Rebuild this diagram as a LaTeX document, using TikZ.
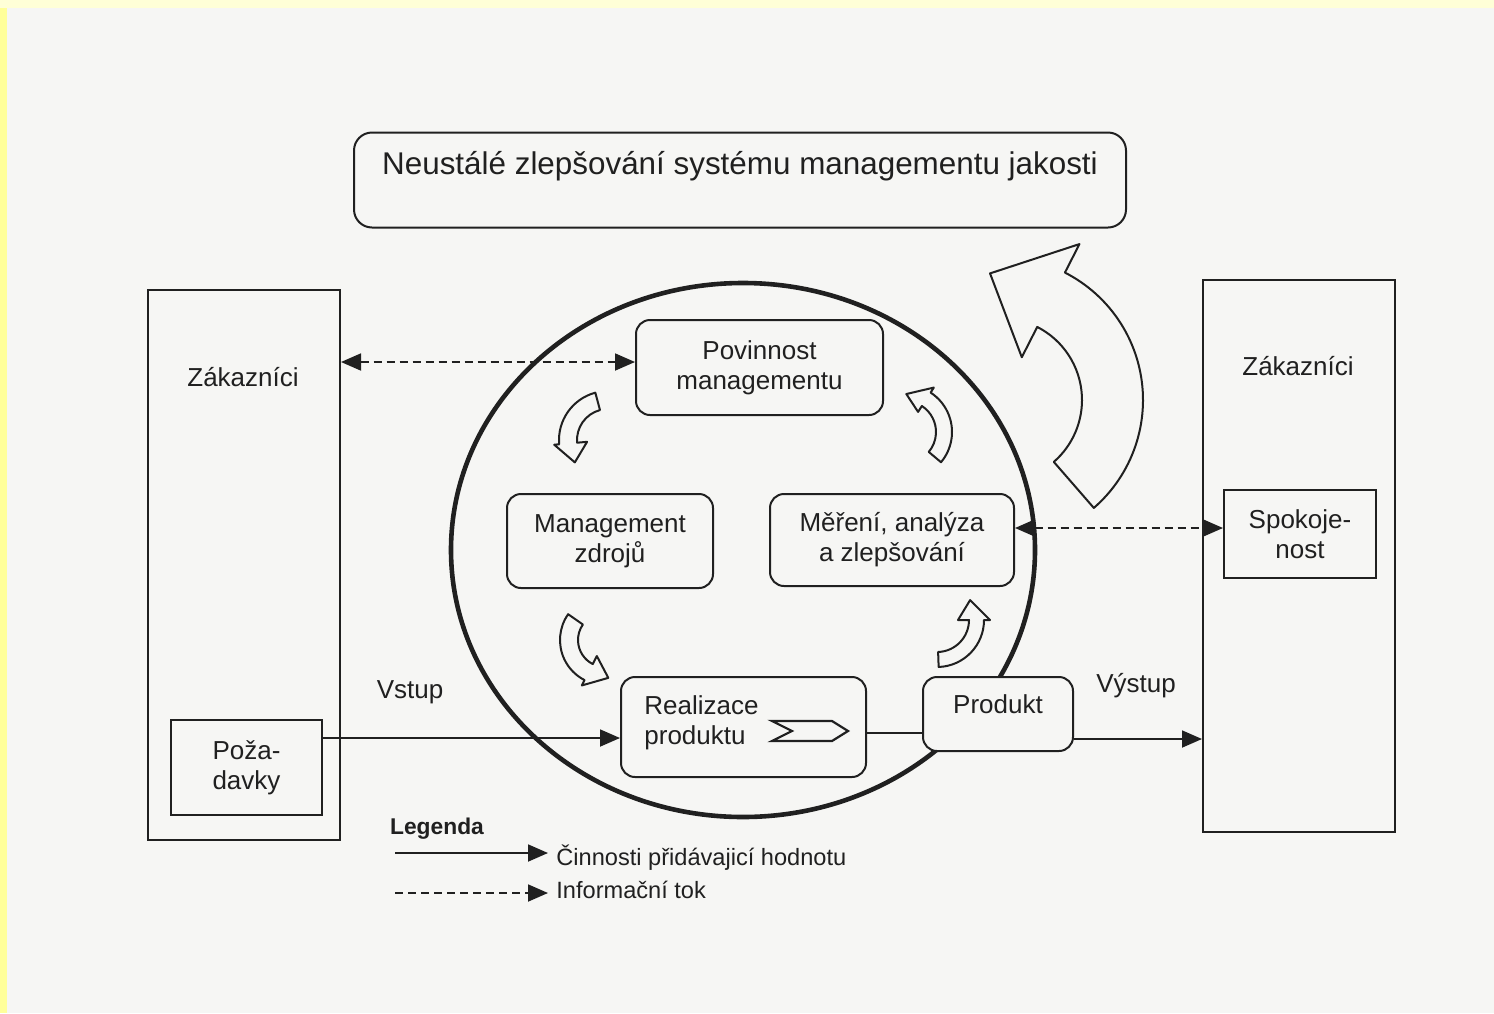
\documentclass[tikz,border=0pt]{standalone}
\usepackage{fontspec}
\setmainfont{Liberation Sans}
\usetikzlibrary{arrows.meta}
\definecolor{paper}{HTML}{F6F6F4}
\definecolor{ink}{HTML}{202020}
\definecolor{edge}{HTML}{FFFF9A}

\tikzset{
  box/.style={draw=ink, line width=1pt, rectangle, fill=paper, inner sep=0pt,
    align=center, text=ink, font=\fontsize{13}{15}\selectfont},
  rbox/.style={box, rounded corners=7pt},
  lbl/.style={inner sep=0pt, text=ink, font=\fontsize{13}{15}\selectfont},
  flow/.style={draw=ink, line width=0.9pt, -{Triangle[length=10pt,width=8.5pt]}},
  info/.style={draw=ink, line width=0.9pt, dash pattern=on 4pt off 2.5pt,
    {Triangle[length=10pt,width=8.5pt]}-{Triangle[length=10pt,width=8.5pt]}},
  turn/.style={draw=ink, line width=1pt, fill=paper, line join=round},
}

\begin{document}
\begin{tikzpicture}[x=0.5pt,y=-0.5pt]
\useasboundingbox (0,0) rectangle (1494,1013);
\fill[paper] (0,0) rectangle (1494,1013);
\fill[edge] (0,0) rectangle (7,1013);
\fill[edge!40] (0,0) rectangle (1494,8);

% heading box
\node[rbox, minimum width=386pt, minimum height=47.5pt, rounded corners=9pt] (title) at (740,180) {};
\node[lbl, font=\fontsize{15.7}{18}\selectfont] (titletext) at (740,166)
  {Neustálé zlepšování systému managementu jakosti};

% customers on both sides
\node[box, minimum width=96pt, minimum height=275pt] (custin) at (244,565) {};
\node[lbl] (custinlbl) at (243,377) {Zákazníci};
\node[box, minimum width=75.5pt, minimum height=47.5pt] (req) at (246.5,767.5) {Poža-\\davky};
\node[box, minimum width=96pt, minimum height=276pt] (custout) at (1299,556) {};
\node[lbl] (custoutlbl) at (1298,366) {Zákazníci};
\node[box, minimum width=76pt, minimum height=44pt] (satis) at (1300,534) {Spokoje-\\nost};

% process cycle
\draw[ink, line width=2.3pt] (743,550) ellipse [x radius=292, y radius=267];

\node[rbox, minimum width=123.5pt, minimum height=47.5pt] (resp) at (759.5,367.5) {Povinnost\\managementu};
\node[rbox, minimum width=103pt, minimum height=47pt] (res) at (610,541) {Management\\zdrojů};
\node[rbox, minimum width=122pt, minimum height=46pt] (meas) at (892,540) {Měření, analýza\\a zlepšování};
\node[rbox, minimum width=122.5pt, minimum height=50pt] (real) at (743.5,727) {};
\node[lbl, anchor=west, align=left] (reallbl) at (644,723) {Realizace\\produktu};
\node[rbox, minimum width=75pt, minimum height=37pt] (prod) at (998,714) {};
\node[lbl] (prodlbl) at (998,704) {Produkt};

% chevron inside the realization box
\draw[ink, line width=1.1pt, line join=miter]
  (772,721) -- (832,721) -- (848,731) -- (832,741) -- (772,741) -- (792,731) -- cycle;

% curved block arrows of the cycle
\draw[turn, shift={(608,440)}] (-105:49) arc[start angle=-105, end angle=-185, radius=49]
  -- (-185:54) -- (-214:40) -- (-185:21) -- (-185:31)
  arc[start angle=-185, end angle=-105, radius=31] -- cycle;
\draw[turn, shift={(905,432)}] (40:47) arc[start angle=40, end angle=-57, radius=47]
  -- (-57:53) -- (-88:38) -- (-57:24) -- (-57:31)
  arc[start angle=-57, end angle=40, radius=31] -- cycle;
\draw[turn, shift={(605,640)}] (-145:45) arc[start angle=-145, end angle=-243, radius=45]
  -- (-243:51) -- (-275:38) -- (-243:18) -- (-243:27)
  arc[start angle=-243, end angle=-145, radius=27] -- cycle;
\draw[turn, shift={(937,620)}] (-272:47) arc[start angle=-272, end angle=-360, radius=47]
  -- (-360:53) -- (-391:38.6) -- (-360:21) -- (-360:32)
  arc[start angle=-360, end angle=-272, radius=32] -- cycle;
% large improvement arrow
\draw[turn, shift={(1000,400)}] (49:143) arc[start angle=49, end angle=-63, radius=143]
  -- (-63:175) -- (-94.5:127) -- (-63:48) -- (-63:82)
  arc[start angle=-63, end angle=49, radius=82] -- cycle;

% flows
\coordinate (lvlin) at (0,738);
\coordinate (lvlmid) at (0,733);
\coordinate (lvlout) at (0,739);
\coordinate (lvlinfoA) at (0,362);
\coordinate (lvlinfoB) at (0,528);
\draw[flow] (req.east |- lvlin) -- (real.west |- lvlin);
\draw[ink, line width=0.9pt] (real.east |- lvlmid) -- (prod.west |- lvlmid);
\draw[flow] (prod.east |- lvlout) -- (custout.west |- lvlout);
\draw[info] (custin.east |- lvlinfoA) -- (resp.west |- lvlinfoA);
\draw[info] (meas.east |- lvlinfoB) -- (satis.west |- lvlinfoB);

\node[lbl] (inlbl) at (410,692) {Vstup};
\node[lbl] (outlbl) at (1136,686) {Výstup};

% legend
\node[lbl, font=\bfseries\fontsize{11.4}{14}\selectfont] (legend) at (437,829) {Legenda};
\coordinate (legA) at (395,853);
\coordinate (legB) at (548,853);
\draw[flow] (legA) -- (legB);
\node[lbl, anchor=west, font=\fontsize{11.8}{14}\selectfont] (legBtext) at (556,858) {Činnosti přidávajicí hodnotu};
\coordinate (legC) at (395,893);
\coordinate (legD) at (548,893);
\draw[flow, dash pattern=on 4pt off 2.5pt] (legC) -- (legD);
\node[lbl, anchor=west, font=\fontsize{11.8}{14}\selectfont] (legDtext) at (556,890) {Informační tok};
\end{tikzpicture}
\end{document}
